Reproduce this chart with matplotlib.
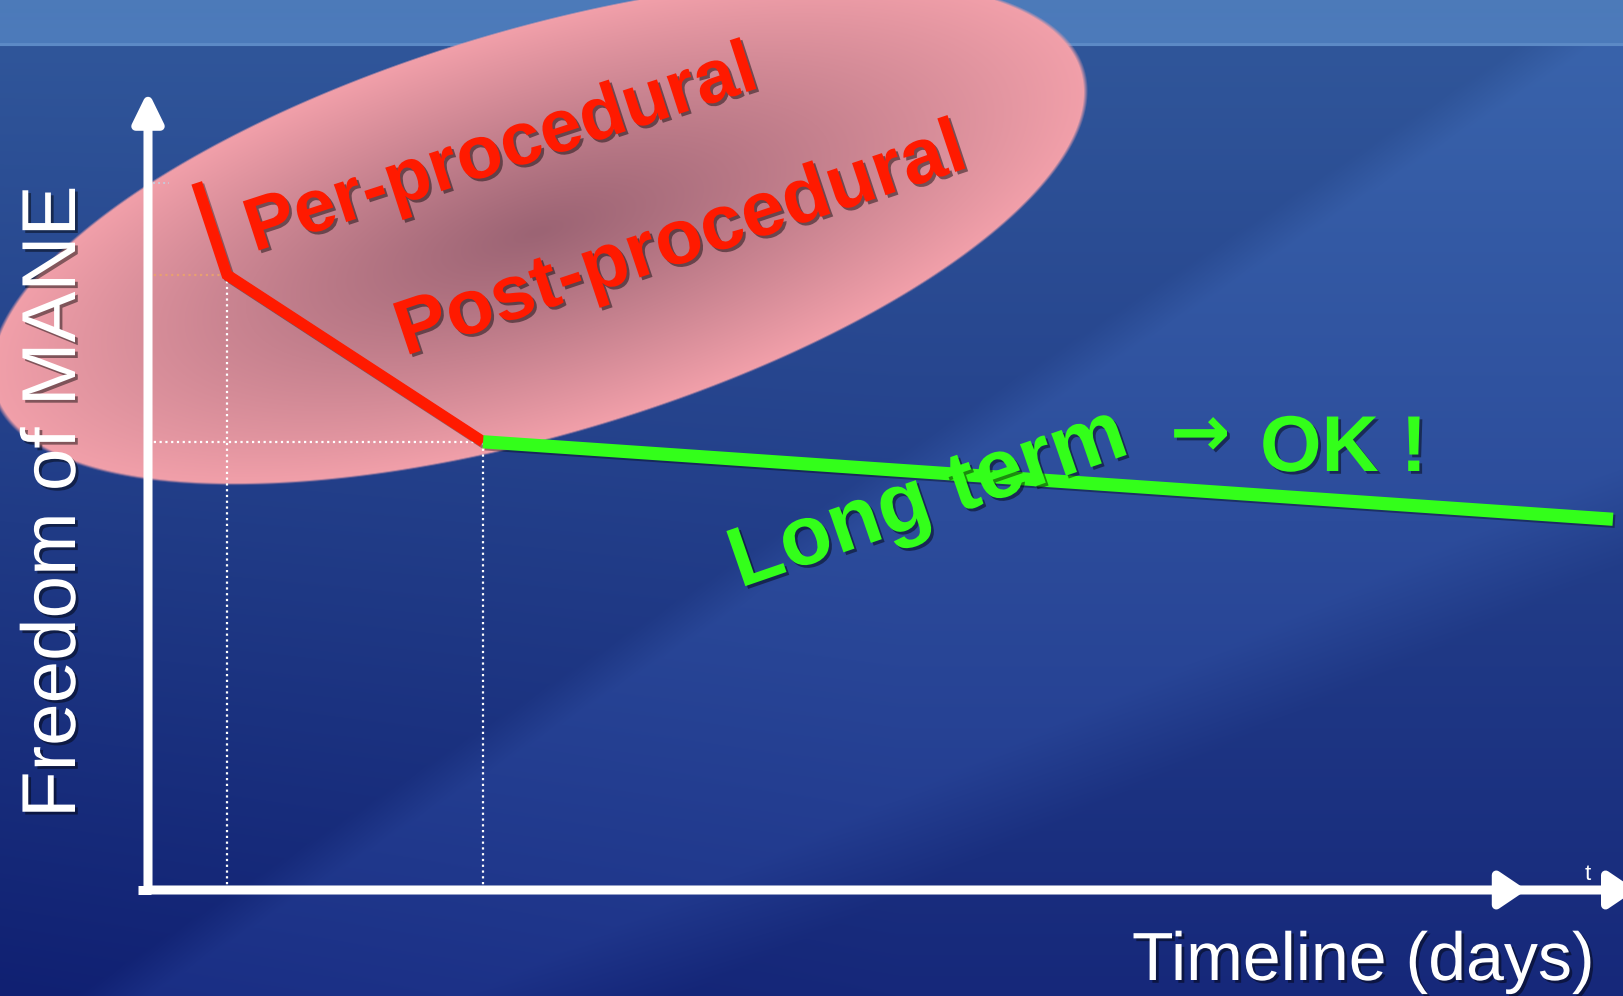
import numpy as np
import matplotlib.pyplot as plt
import matplotlib.patheffects as pe

# freedom of MANE along the timeline (arbitrary units, 0-100 on both axes)
t_early = [3.3, 5.35, 22.7]         # per-procedural -> post-procedural
f_early = [88.5, 77.0, 56.1]
t_late = [22.7, 99.25]              # long term
f_late = [56.1, 46.4]

W, H = 1624, 996
# pixel position of the data origin and px per data unit
X0, Y0 = 148, 890
SX, SY = 14.76, 7.99


def px(x, y):
    return (x - X0) / SX, (Y0 - y) / SY


plt.rcParams['font.family'] = ['Liberation Sans', 'DejaVu Sans']

fig = plt.figure(figsize=(W / 100, H / 100), dpi=100)
ax = fig.add_axes([0, 0, 1, 1])
xmin, ymax = px(0, 0)
xmax, ymin = px(W, H)
ax.set_xlim(xmin, xmax)
ax.set_ylim(ymin, ymax)
ax.axis('off')

# slide background: header band + blue gradient + faint diagonal sheen
yy, xx = np.mgrid[0:H, 0:W].astype(float)
top = np.array([48, 86, 154]) / 255
bot = np.array([22, 40, 122]) / 255
s = np.clip((yy - 46) / (H - 46), 0, 1)[..., None]
bg = top * (1 - s) + bot * s
bg -= (np.clip(1 - xx / 900, 0, 1) * s[..., 0])[..., None] * np.array([6, 8, 8]) / 255
bg[yy < 46] = np.array([76, 122, 186]) / 255
bg[(yy >= 44) & (yy < 47)] = np.array([92, 138, 198]) / 255


def side(x1, y1, x2, y2):
    return ((xx - x1) * (y2 - y1) - (yy - y1) * (x2 - x1)) / np.hypot(x2 - x1, y2 - y1)


m1 = np.clip(-side(350, 815, 1515, 50) / 40, 0, 1)
m2 = np.clip(side(932, 880, 1624, 563) / 90, 0, 1)
sheen = m1 * m2 * (yy > 46)
bg = bg + sheen[..., None] * np.array([9, 13, 17]) / 255

# pink highlight ellipse, darker towards the centre
cx, cy, a, b, ang = 538, 232, 570, 203, np.radians(16.5)
dx, dy = xx - cx, yy - cy
u = dx * np.cos(ang) - dy * np.sin(ang)
v = dx * np.sin(ang) + dy * np.cos(ang)
r = np.sqrt((u / a) ** 2 + (v / b) ** 2)
alpha = np.clip((1 - r) * 120, 0, 1)[..., None]
c_mid = np.array([156, 100, 116]) / 255
c_edge = np.array([242, 160, 170]) / 255
k = np.clip(r, 0, 1)[..., None] ** 1.1
ell = c_mid * (1 - k) + c_edge * k
img = np.clip(bg * (1 - alpha) + ell * alpha, 0, 1)
ax.imshow(img, extent=(xmin, xmax, ymin, ymax), aspect='auto',
          interpolation='bilinear', zorder=0)

# dotted guides back to the axes
dot = dict(color='white', lw=1.6, ls=(0, (1, 1.6)), zorder=2)
ax.plot([t_early[1], t_early[1]], [0, f_early[1]], **dot)
ax.plot([t_early[2], t_early[2]], [0, f_early[2]], **dot)
ax.plot([0, t_early[2]], [f_early[2], f_early[2]], **dot)
ax.plot([0, t_early[1]], [f_early[1], f_early[1]], color='#e8a070', lw=1.6,
        ls=(0, (1, 1.6)), zorder=2)
ax.plot([0, 1.4], [f_early[0], f_early[0]], color='#c8c8d8', lw=1.4,
        ls=(0, (1, 1.6)), zorder=2)

shadow = [pe.SimpleLineShadow(offset=(1.5, -1.5), alpha=0.35), pe.Normal()]
ax.plot(t_early, f_early, color='#ff1a00', lw=8, solid_capstyle='butt',
        solid_joinstyle='miter', zorder=4, path_effects=shadow)
ax.plot(t_late, f_late, color='#33ff1a', lw=9.5, solid_capstyle='butt',
        zorder=4, path_effects=shadow)

# axes with arrowheads
head = dict(color='white', lw=6.5, mutation_scale=40, shrinkA=0, shrinkB=0,
            capstyle='butt')
ax.plot([-0.7, 0.2], [0, 0], color='white', lw=6.5, solid_capstyle='butt', zorder=5)
ax.annotate('', xy=(0, 100), xytext=(0, -0.5), zorder=5, annotation_clip=False,
            arrowprops=dict(arrowstyle='-|>,head_length=0.45,head_width=0.22', **head))
ax.annotate('', xy=(93.4, 0), xytext=(0, 0), zorder=5, annotation_clip=False,
            arrowprops=dict(arrowstyle='-|>,head_length=0.4,head_width=0.27', **head))
ax.annotate('', xy=(100.8, 0), xytext=(92.5, 0), zorder=5, annotation_clip=False,
            arrowprops=dict(arrowstyle='-|>,head_length=0.4,head_width=0.27', **head))
ax.text(*px(1588, 880), 't', color='white', fontsize=16, ha='center',
        va='baseline', zorder=5)

txt_shadow = [pe.withSimplePatchShadow(offset=(2, -2), shadow_rgbFace='black',
                                       alpha=0.45)]
anchor = dict(ha='left', va='baseline', rotation_mode='anchor', zorder=6)

ax.text(*px(254, 252), 'Per-procedural', color='#ff1a00', fontsize=54,
        fontweight='bold', rotation=18, path_effects=txt_shadow, **anchor)
ax.text(*px(405, 356), 'Post-procedural', color='#ff1a00', fontsize=56,
        fontweight='bold', rotation=18.5, path_effects=txt_shadow, **anchor)
ax.text(*px(740, 588), 'Long term', color='#33ff1a', fontsize=61,
        fontweight='bold', rotation=19, path_effects=txt_shadow, **anchor)
ax.text(*px(1170, 456), '→', color='#33ff1a', fontsize=52, fontweight='bold',
        family=['DejaVu Sans'], path_effects=txt_shadow, **anchor)
ax.text(*px(1260, 471), 'OK !', color='#33ff1a', fontsize=57,
        fontweight='bold', path_effects=txt_shadow, **anchor)

ax.text(*px(75, 818), 'Freedom of MANE', color='white', fontsize=55,
        rotation=90, path_effects=txt_shadow, **anchor)
ax.text(*px(1132, 980), 'Timeline (days)', color='white', fontsize=49,
        path_effects=txt_shadow, **anchor)

fig.savefig('out.png', dpi=100)
